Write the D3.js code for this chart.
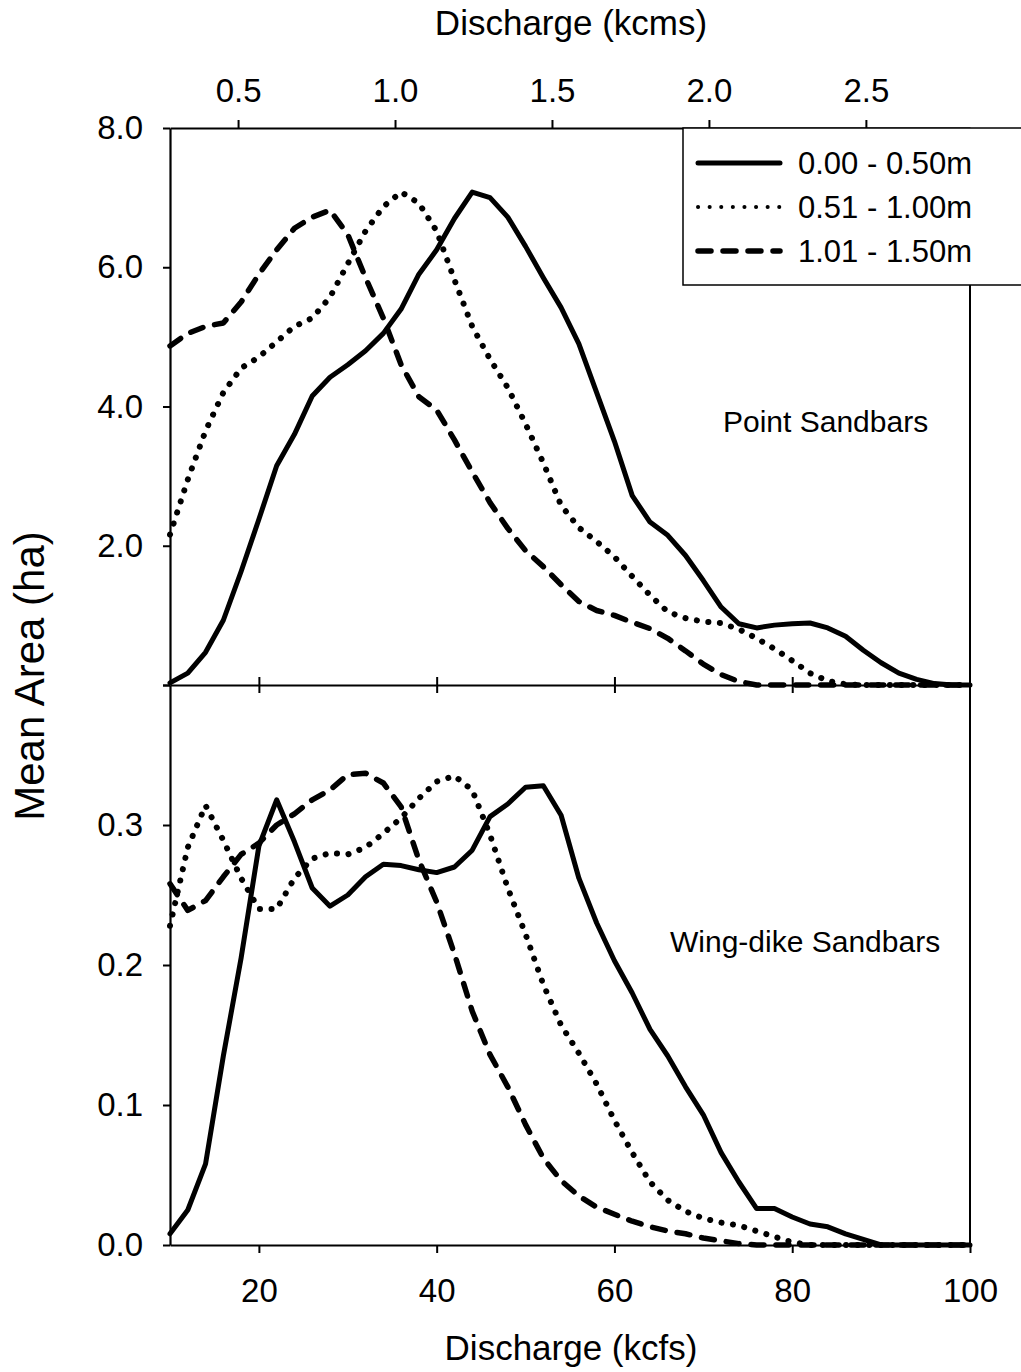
<!DOCTYPE html>
<html>
<head>
<meta charset="utf-8">
<script src="https://cdn.jsdelivr.net/npm/d3@7"></script>
<style>
	body { margin: 0; background: #fff; }
	svg text { font-family: "Liberation Sans", Arial, sans-serif; fill: #000; }
</style>
</head>
<body>
<div id="chart"></div>
<script>
// discharge (kcfs), one reading every 2 kcfs
var discharge = [10, 12, 14, 16, 18, 20, 22, 24, 26, 28, 30, 32, 34, 36, 38, 40, 42, 44, 46, 48, 50, 52, 54,
	56, 58, 60, 62, 64, 66, 68, 70, 72, 74, 76, 78, 80, 82, 84, 86, 88, 90, 92, 94, 96, 98, 100];

// point sandbars, mean area (ha) by elevation band
var pointShallow = [0.03, 0.17, 0.47, 0.93, 1.63, 2.38, 3.15, 3.6, 4.15, 4.42, 4.6, 4.8, 5.05, 5.4, 5.9, 6.25,
	6.7, 7.08, 7.0, 6.72, 6.3, 5.85, 5.42, 4.9, 4.2, 3.5, 2.72, 2.34, 2.15, 1.86, 1.5, 1.12, 0.88, 0.82, 0.86,
	0.88, 0.89, 0.82, 0.7, 0.5, 0.32, 0.17, 0.08, 0.02, 0, 0];
var pointMid = [2.16, 2.95, 3.65, 4.2, 4.55, 4.71, 4.93, 5.15, 5.27, 5.57, 6.05, 6.52, 6.87, 7.08, 6.92, 6.52,
	5.82, 5.15, 4.68, 4.27, 3.75, 3.19, 2.58, 2.26, 2.06, 1.84, 1.56, 1.29, 1.05, 0.96, 0.91, 0.89, 0.8, 0.67,
	0.52, 0.35, 0.17, 0.06, 0.01, 0, 0, 0, 0, 0, 0, 0];
var pointDeep = [4.87, 5.05, 5.15, 5.2, 5.5, 5.9, 6.25, 6.56, 6.72, 6.82, 6.47, 5.85, 5.27, 4.6, 4.14, 3.95,
	3.52, 3.06, 2.62, 2.25, 1.93, 1.7, 1.44, 1.2, 1.07, 1.0, 0.9, 0.81, 0.67, 0.49, 0.3, 0.15, 0.05, 0, 0, 0,
	0, 0, 0, 0, 0, 0, 0, 0, 0, 0];

// wing-dike sandbars
var wingShallow = [0.008, 0.025, 0.058, 0.135, 0.205, 0.285, 0.318, 0.288, 0.255, 0.242, 0.25, 0.263, 0.272,
	0.271, 0.268, 0.266, 0.27, 0.282, 0.306, 0.315, 0.327, 0.328, 0.307, 0.262, 0.23, 0.203, 0.18, 0.154, 0.135,
	0.113, 0.093, 0.066, 0.045, 0.026, 0.026, 0.02, 0.015, 0.013, 0.008, 0.004, 0, 0, 0, 0, 0, 0];
var wingMid = [0.228, 0.284, 0.314, 0.289, 0.262, 0.24, 0.24, 0.262, 0.276, 0.28, 0.279, 0.284, 0.294, 0.305,
	0.319, 0.331, 0.335, 0.325, 0.293, 0.255, 0.222, 0.186, 0.157, 0.137, 0.115, 0.089, 0.066, 0.045, 0.032,
	0.024, 0.019, 0.016, 0.014, 0.01, 0.006, 0.002, 0, 0, 0, 0, 0, 0, 0, 0, 0, 0];
var wingDeep = [0.258, 0.239, 0.246, 0.263, 0.279, 0.287, 0.3, 0.308, 0.318, 0.325, 0.336, 0.337, 0.33, 0.313,
	0.275, 0.245, 0.208, 0.167, 0.136, 0.113, 0.086, 0.062, 0.046, 0.035, 0.027, 0.022, 0.017, 0.013, 0.01,
	0.008, 0.005, 0.003, 0.001, 0, 0, 0, 0, 0, 0, 0, 0, 0, 0, 0, 0, 0];

var legendLabels = ["0.00 - 0.50m", "0.51 - 1.00m", "1.01 - 1.50m"];
var kcfsTicks = [20, 40, 60, 80, 100];
var kcmsTicks = [0.5, 1.0, 1.5, 2.0, 2.5];
var pointTicks = [0, 2, 4, 6, 8];
var wingTicks = [0, 0.1, 0.2, 0.3, 0.4];
var KCFS_PER_KCMS = 35.315;

function SandbarChart(DOMelement) {
	var self = this;
	self._panel = DOMelement || "#chart";
	self.config = {
		width: 1021, height: 1372,
		left: 170, right: 970,
		top: 128, middle: 685, bottom: 1245,
		tickFont: 33, titleFont: 35
	};
	// one style per elevation band: solid, dotted, dashed
	self.styles = [
		{ width: 5, dash: null },
		{ width: 6, dash: "0.1,11.5" },
		{ width: 5.5, dash: "13,12" }
	];

	this.Render = function() {
		var c = self.config;
		var svg = d3.select(self._panel).append("svg")
			.attr("width", c.width)
			.attr("height", c.height);

		var x = d3.scaleLinear().domain([10, 100]).range([c.left, c.right]);
		var xKcms = d3.scaleLinear().domain([10 / KCFS_PER_KCMS, 100 / KCFS_PER_KCMS]).range([c.left, c.right]);
		var yPoint = d3.scaleLinear().domain([0, 8]).range([c.middle, c.top]);
		var yWing = d3.scaleLinear().domain([0, 0.4]).range([c.bottom, c.middle]);

		var panels = [
			{ y: yPoint, series: [pointShallow, pointMid, pointDeep] },
			{ y: yWing, series: [wingShallow, wingMid, wingDeep] }
		];

		panels.forEach(function(p) {
			p.series.forEach(function(values, i) {
				var line = d3.line()
					.x(function(d, k) { return x(discharge[k]); })
					.y(function(d) { return p.y(d); });
				svg.append("path")
					.datum(values)
					.attr("d", line)
					.attr("fill", "none")
					.attr("stroke", "#000")
					.attr("stroke-width", self.styles[i].width)
					.attr("stroke-linejoin", "round")
					.attr("stroke-linecap", "round")
					.attr("stroke-dasharray", self.styles[i].dash);
			});
		});

		// right border of both panels
		svg.append("line")
			.attr("x1", c.right).attr("x2", c.right)
			.attr("y1", c.top).attr("y2", c.bottom)
			.attr("stroke", "#000").attr("stroke-width", 2);

		var fmt1 = d3.format(".1f");

		var leftTop = d3.axisLeft(yPoint).tickValues(pointTicks).tickSize(7).tickSizeOuter(0).tickPadding(20)
			.tickFormat(function(d) { return d === 0 ? "" : fmt1(d); });
		var leftBottom = d3.axisLeft(yWing).tickValues(wingTicks).tickSize(7).tickSizeOuter(0).tickPadding(20)
			.tickFormat(function(d) { return d === 0.4 ? "" : fmt1(d); });
		var bottomAxis = d3.axisBottom(x).tickValues(kcfsTicks).tickSize(8).tickSizeOuter(0).tickPadding(26)
			.tickFormat(d3.format("d"));
		var middleAxis = d3.axisBottom(x).tickValues(kcfsTicks.slice(0, 4)).tickSize(8).tickSizeOuter(0)
			.tickFormat("");
		var topAxis = d3.axisTop(xKcms).tickValues(kcmsTicks).tickSize(8).tickSizeOuter(0).tickPadding(18)
			.tickFormat(fmt1);

		var axes = [
			{ axis: leftTop, t: "translate(" + c.left + ",0)" },
			{ axis: leftBottom, t: "translate(" + c.left + ",0)" },
			{ axis: bottomAxis, t: "translate(0," + c.bottom + ")" },
			{ axis: middleAxis, t: "translate(0," + c.middle + ")", cross: true },
			{ axis: topAxis, t: "translate(0," + c.top + ")" }
		];
		axes.forEach(function(a) {
			var g = svg.append("g").attr("transform", a.t).call(a.axis);
			g.select(".domain").attr("stroke-width", 2.2);
			g.selectAll(".tick line").attr("stroke-width", 2);
			g.selectAll(".tick text")
				.attr("font-size", c.tickFont)
				.attr("font-family", null);
			g.attr("font-family", null);
			if (a.cross) {
				// middle axis ticks cross the line
				g.selectAll(".tick line").attr("y1", -8).attr("y2", 8);
			}
		});

		// axis titles
		svg.append("text")
			.attr("x", 571).attr("y", 35)
			.attr("text-anchor", "middle")
			.attr("font-size", c.titleFont)
			.text("Discharge (kcms)");
		svg.append("text")
			.attr("x", 571).attr("y", 1360)
			.attr("text-anchor", "middle")
			.attr("font-size", c.titleFont)
			.text("Discharge (kcfs)");
		svg.append("text")
			.attr("transform", "translate(44,676) rotate(-90)")
			.attr("text-anchor", "middle")
			.attr("font-size", 42)
			.text("Mean Area (ha)");

		// panel labels
		svg.append("text")
			.attr("x", 723).attr("y", 432)
			.attr("font-size", 30)
			.text("Point Sandbars");
		svg.append("text")
			.attr("x", 670).attr("y", 952)
			.attr("font-size", 30)
			.text("Wing-dike Sandbars");

		// legend box, runs past the right edge like the source
		var legend = svg.append("g");
		legend.append("rect")
			.attr("x", 683).attr("y", c.top)
			.attr("width", 360).attr("height", 157)
			.attr("fill", "#fff")
			.attr("stroke", "#000")
			.attr("stroke-width", 1.5);
		legendLabels.forEach(function(label, i) {
			var ly = 163 + i * 44;
			legend.append("line")
				.attr("x1", 698).attr("x2", 780)
				.attr("y1", ly).attr("y2", ly)
				.attr("stroke", "#000")
				.attr("stroke-width", i === 1 ? 4 : self.styles[i].width)
				.attr("stroke-linecap", "round")
				.attr("stroke-dasharray", i === 1 ? "0.1,11.5" : self.styles[i].dash);
			legend.append("text")
				.attr("x", 798).attr("y", ly + 11)
				.attr("font-size", 31)
				.text(label);
		});
	};
}

var chart = new SandbarChart("#chart");
chart.Render();
</script>
</body>
</html>
